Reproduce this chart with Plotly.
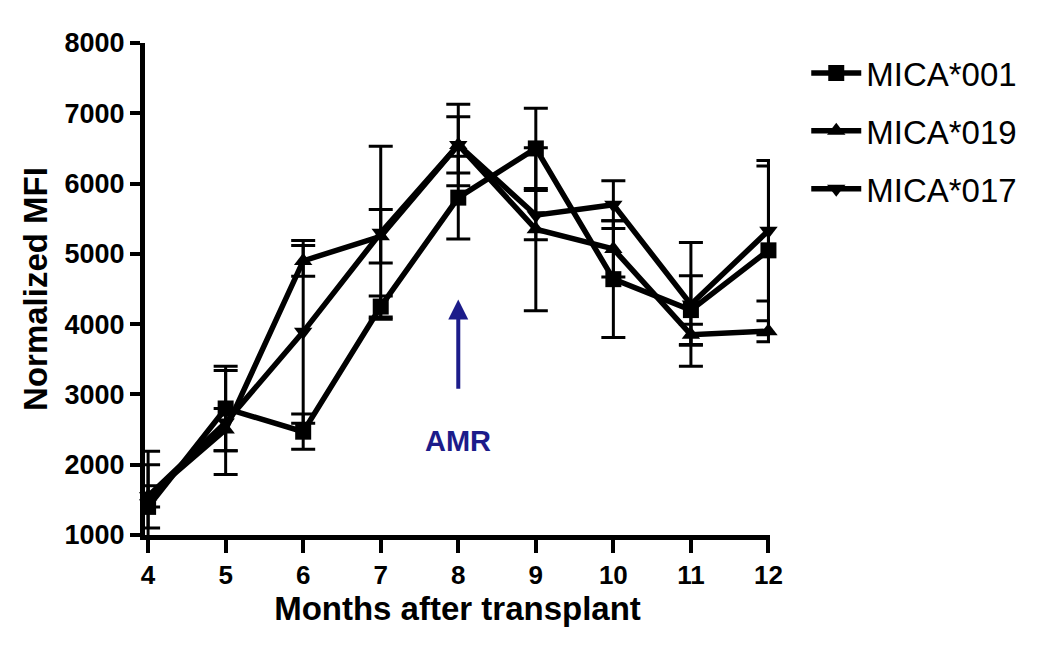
import plotly.graph_objects as go

months = [4, 5, 6, 7, 8, 9, 10, 11, 12]

mica001 = [1400, 2800, 2470, 4250, 5800, 6500, 4640, 4200, 5050]
mica001_err = [790, 600, 250, 150, 590, 570, 830, 490, 1200]

mica019 = [1550, 2500, 4900, 5250, 6550, 5350, 5070, 3850, 3900]
mica019_err = [450, 300, 220, 380, 400, 1160, 400, 150, 150]

mica017 = [1550, 2600, 3890, 5300, 6550, 5550, 5700, 4280, 5330]
mica017_err = [150, 740, 1300, 1230, 580, 350, 340, 880, 1000]

y_ticks = [1000, 2000, 3000, 4000, 5000, 6000, 7000, 8000]

FONT = "Liberation Sans, Arial, sans-serif"

series = [
    ("MICA*001", mica001, mica001_err, "square"),
    ("MICA*019", mica019, mica019_err, "triangle-up"),
    ("MICA*017", mica017, mica017_err, "triangle-down"),
]

fig = go.Figure()
for i, (name, vals, errs, sym) in enumerate(series):
    fig.add_trace(go.Scatter(
        x=months, y=vals, name=name, mode="lines+markers",
        line=dict(color="black", width=5.5),
        marker=dict(symbol=sym, size=16, color="black"),
        error_y=dict(type="data", array=errs, visible=True, color="black",
                     thickness=3, width=12),
        legendgroup=name, cliponaxis=False,
    ))

# AMR arrow and label
fig.add_annotation(x=8, y=4350, ax=8, ay=3060, xref="x", yref="y", axref="x", ayref="y",
                   text="", showarrow=True, arrowhead=2, arrowsize=1, arrowwidth=4,
                   arrowcolor="#1c1c8a")
fig.add_annotation(x=8, y=2340, xref="x", yref="y", text="AMR", showarrow=False,
                   font=dict(family=FONT, size=29, color="#1c1c8a", weight="bold"))

fig.update_layout(
    width=1050, height=667,
    paper_bgcolor="white", plot_bgcolor="white",
    margin=dict(l=137, r=288, t=35, b=140),
    font=dict(family=FONT, color="black"),
    showlegend=True,
    legend=dict(x=1.058, y=0.996, xanchor="left", yanchor="top",
                font=dict(family=FONT, size=33, color="black"),
                tracegroupgap=12, itemwidth=50, bgcolor="rgba(0,0,0,0)"),
    xaxis=dict(range=[3.96, 12.02], tickvals=months, ticktext=[str(m) for m in months],
               showline=True, linecolor="black", linewidth=5, ticks="outside",
               ticklen=13, tickwidth=4, tickcolor="black", showgrid=False, zeroline=False,
               automargin=False,
               tickfont=dict(family=FONT, size=26, color="black", weight="bold"),
               title=dict(text="Months after transplant",
                          font=dict(family=FONT, size=33, color="black", weight="bold"),
                          standoff=8)),
    yaxis=dict(range=[1000, 8000], tickvals=y_ticks, ticktext=[str(t) for t in y_ticks],
               showline=True, linecolor="black", linewidth=5, ticks="outside",
               ticklen=10, tickwidth=4, tickcolor="black", showgrid=False, zeroline=False,
               automargin=False,
               tickfont=dict(family=FONT, size=27, color="black", weight="bold"),
               title=dict(text="Normalized MFI",
                          font=dict(family=FONT, size=33, color="black", weight="bold"),
                          standoff=8)),
)

fig.write_html("out.html")
